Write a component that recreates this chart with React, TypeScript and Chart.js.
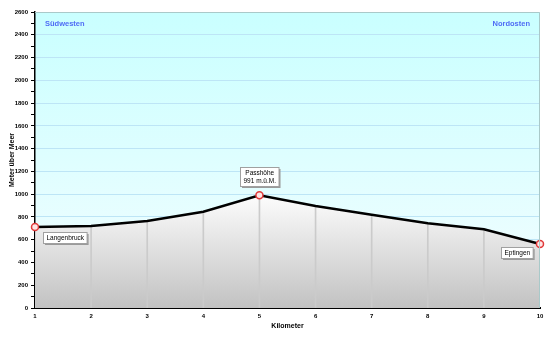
import React, { useEffect, useRef } from "react";
import { Chart, registerables } from "chart.js";

Chart.register(...registerables);

const kilometers = [1, 2, 3, 4, 5, 6, 7, 8, 9, 10];
const elevations = [712, 720, 764, 846, 991, 896, 820, 744, 692, 562];
const placeNames = ["Langenbruck", "Passhöhe|991 m.ü.M.", "Eptingen"];
const placeIndices = [0, 4, 9];
const directionLabels = ["Südwesten", "Nordosten"];
const yMax = 2600;

const FONT = "'Liberation Sans', Arial, sans-serif";

export default function App() {
  const ref = useRef<HTMLCanvasElement | null>(null);

  useEffect(() => {
    document.body.style.margin = "0";
    const canvas = ref.current!;
    const bgPlugin = {
      id: "bgPlugin",
      beforeDatasetsDraw(chart: any) {
        const { ctx, chartArea: a } = chart;
        ctx.save();
        const g = ctx.createLinearGradient(0, a.top, 0, a.bottom);
        g.addColorStop(0, "#c9ffff");
        g.addColorStop(1, "#f4fdff");
        ctx.globalCompositeOperation = "destination-over";
        ctx.fillStyle = g;
        ctx.fillRect(a.left, a.top, a.right - a.left, a.bottom - a.top);
        ctx.restore();
      },
      afterDatasetsDraw(chart: any) {
        const { ctx, chartArea: a, scales } = chart;
        ctx.save();
        ctx.strokeStyle = "#a9c9c9";
        ctx.lineWidth = 1;
        ctx.beginPath();
        ctx.moveTo(a.left, a.top + 0.5);
        ctx.lineTo(a.right - 0.5, a.top + 0.5);
        ctx.lineTo(a.right - 0.5, a.bottom);
        ctx.stroke();
        ctx.font = `bold 7.5px ${FONT}`;
        ctx.fillStyle = "#4f6cf5";
        ctx.textBaseline = "middle";
        ctx.textAlign = "left";
        ctx.fillText(directionLabels[0], a.left + 10, a.top + 12);
        ctx.textAlign = "right";
        ctx.fillText(directionLabels[1], a.right - 10, a.top + 12);
        ctx.font = `6.5px ${FONT}`;
        placeNames.forEach((name, k) => {
          const i = placeIndices[k];
          const px = scales.x.getPixelForValue(kilometers[i]);
          const py = scales.y.getPixelForValue(elevations[i]);
          const lines = name.split("|");
          const w = Math.max(...lines.map((l) => ctx.measureText(l).width)) + 6;
          const h = lines.length * 8 + 3;
          let bx: number, by: number;
          if (k === 0) { bx = px + 8; by = py + 5; }
          else if (k === 1) { bx = px - w / 2; by = py - 9 - h; }
          else { bx = px - 7 - w; by = py + 3; }
          bx = Math.round(bx) + 0.5; by = Math.round(by) + 0.5;
          ctx.fillStyle = "#9a9a9a";
          ctx.fillRect(bx + 1.5, by + 1.5, w, h);
          ctx.fillStyle = "#ffffff";
          ctx.fillRect(bx, by, w, h);
          ctx.strokeStyle = "#a0a0a0";
          ctx.lineWidth = 1;
          ctx.strokeRect(bx, by, w, h);
          ctx.fillStyle = "#000000";
          ctx.textAlign = "center";
          ctx.textBaseline = "middle";
          lines.forEach((l, j) => {
            ctx.fillText(l, bx + w / 2, by + 1.5 + 4 + j * 8);
          });
        });
        ctx.restore();
      },
    };

    const chart = new Chart(canvas, {
      type: "line",
      data: {
        datasets: [
          {
            type: "line",
            data: kilometers.map((x, i) => ({ x, y: elevations[i] })),
            borderColor: "#000000",
            borderWidth: 2.5,
            tension: 0,
            clip: false,
            fill: "origin",
            backgroundColor: (c: any) => {
              const a = c.chart.chartArea;
              if (!a) return "#e0e0e0";
              const g = c.chart.ctx.createLinearGradient(0, a.top + (a.bottom - a.top) * 0.6, 0, a.bottom);
              g.addColorStop(0, "#ffffff");
              g.addColorStop(1, "#c2c2c2");
              return g;
            },
            pointRadius: (c: any) => (placeIndices.includes(c.dataIndex) ? 3.5 : 0),
            pointBackgroundColor: "#ffe4e4",
            pointBorderColor: "#e03a3a",
            pointBorderWidth: 1.5,
            order: 1,
          } as any,
          {
            type: "bar",
            data: kilometers.map((x, i) => ({ x, y: elevations[i] })),
            backgroundColor: "#cbcbcb",
            barThickness: 1,
            order: 2,
          } as any,
        ],
      },
      options: {
        animation: false,
        responsive: false,
        maintainAspectRatio: false,
        layout: { padding: { top: 12, right: 10, left: 0, bottom: 12 } },
        plugins: {
          legend: { display: false },
          tooltip: { enabled: false },
          filler: { drawTime: "beforeDatasetsDraw" } as any,
        },
        scales: {
          x: {
            type: "linear",
            min: 1,
            max: 10,
            offset: false,
            ticks: {
              stepSize: 1,
              color: "#000000",
              font: { size: 6, family: FONT, weight: "bold" },
              padding: 2,
              maxRotation: 0,
            },
            grid: { display: false, drawTicks: true, tickLength: 3 } as any,
            border: { color: "#000000", width: 2 },
            title: {
              display: true,
              text: "Kilometer",
              color: "#000000",
              font: { size: 7, family: FONT, weight: "bold" },
              padding: { top: 2, bottom: 0 },
            },
            afterFit: (s: any) => { s.height = 22; },
          },
          y: {
            min: 0,
            max: yMax,
            ticks: {
              stepSize: 100,
              autoSkip: false,
              color: "#000000",
              font: { size: 6, family: FONT, weight: "bold" },
              padding: 3,
              callback: (v: any) => (Number(v) % 200 === 0 ? String(v) : ""),
            },
            grid: {
              color: (c: any) => (c.tick && c.tick.value % 200 === 0 && c.tick.value !== 0 ? "#bde5f6" : "rgba(0,0,0,0)"),
              tickColor: "#000000",
              tickLength: 4,
              lineWidth: 1,
            } as any,
            border: { color: "#000000", width: 1.5 },
            title: {
              display: true,
              text: "Meter über Meer",
              color: "#000000",
              font: { size: 7, family: FONT, weight: "bold" },
              padding: { top: 8, bottom: 2 },
            },
            afterFit: (s: any) => { s.width = 35; },
          },
        },
      },
      plugins: [bgPlugin],
    } as any);
    return () => chart.destroy();
  }, []);

  return (
    <div style={{ width: 550, height: 342 }}>
      <canvas ref={ref} width={550} height={342} style={{ display: "block" }} />
    </div>
  );
}
